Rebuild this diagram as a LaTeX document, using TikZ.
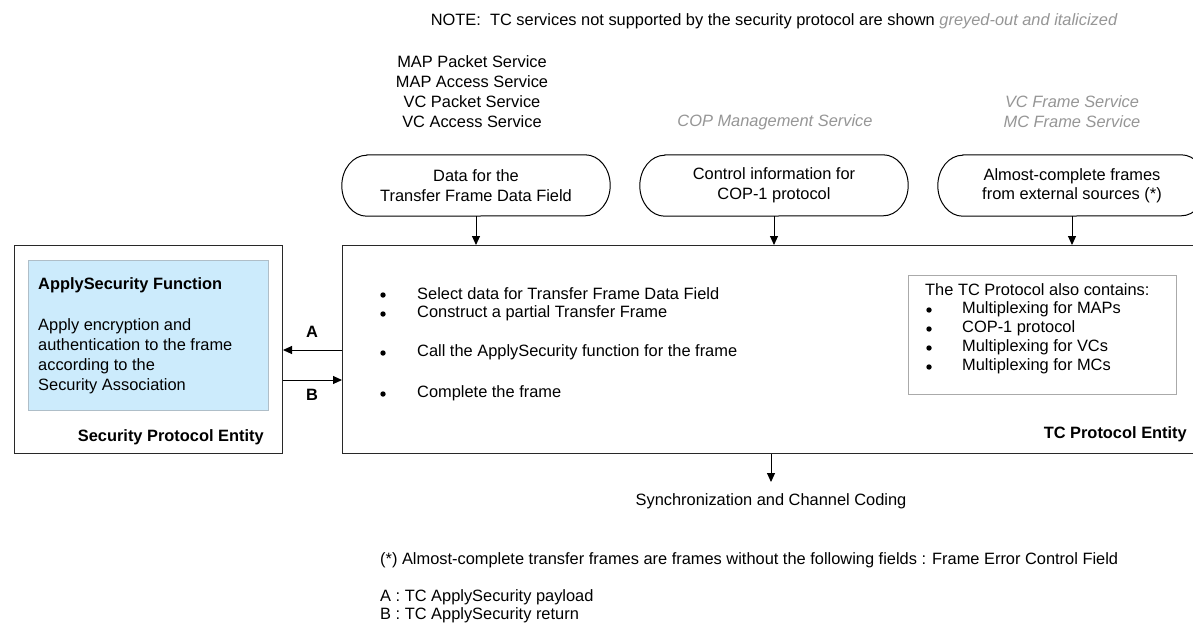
\documentclass[tikz,border=0pt]{standalone}
\usepackage{fontspec}
\setmainfont{Liberation Sans}
\usetikzlibrary{arrows.meta}
\definecolor{greytext}{RGB}{150,150,150}
\definecolor{funcblue}{RGB}{204,235,252}
\definecolor{funcborder}{RGB}{175,190,200}
\definecolor{innerborder}{RGB}{170,170,170}
\definecolor{boxline}{RGB}{40,40,40}
\tikzset{
  txt/.style={inner sep=0pt, font=\fontsize{16.4}{20}\selectfont},
  greyit/.style={txt, text=greytext, font=\fontsize{16.4}{20}\selectfont\itshape},
  bold/.style={txt, font=\fontsize{16.4}{20}\selectfont\bfseries},
  arr/.style={line width=1pt, -{Triangle[length=9pt,width=8pt]}},
  pill/.style={minimum width=268pt, minimum height=61pt, inner sep=0pt, align=center,
    font=\fontsize{16.4}{19.5}\selectfont},
  entity/.style={draw=boxline, line width=1pt, inner sep=0pt, anchor=north west},
  bul/.style={circle, fill=black, inner sep=0pt, minimum size=5.4pt},
}
\newcommand{\pilloutline}[1]{%
  \draw[line width=1pt]
    ([xshift=25pt]#1.north west) -- ([xshift=-25pt]#1.north east)
    arc[start angle=90, end angle=-90, x radius=25pt, y radius=30.5pt]
    -- ([xshift=25pt]#1.south west)
    arc[start angle=270, end angle=90, x radius=25pt, y radius=30.5pt] -- cycle;}
\begin{document}
\begin{tikzpicture}[x=1pt,y=-1pt]
\useasboundingbox (0,0) rectangle (1193,625);
\clip (0,0) rectangle (1193,625);
\fill[white] (0,0) rectangle (1193,625);

% note
\node[txt] (note) at (774,21) {NOTE:\ \ TC services not supported by the security protocol are shown {\color{greytext}\itshape greyed-out and italicized}};

% service labels
\node[txt, align=center] (svc1) at (472,92) {MAP Packet Service\\MAP Access Service\\VC Packet Service\\VC Access Service};
\node[greyit] (svc2) at (775,122) {COP Management Service};
\node[greyit, align=center] (svc3) at (1072,112) {VC Frame Service\\MC Frame Service};

% pills
\node[pill] (b1) at (476,185.5) {Data for the\\Transfer Frame Data Field};
\node[pill] (b2) at (774,185.5) {Control information for\\COP-1 protocol};
\node[pill] (b3) at (1072,185.5) {Almost-complete frames\\from external sources (*)};
\pilloutline{b1}
\pilloutline{b2}
\pilloutline{b3}

% entities
\node[entity, minimum width=268pt, minimum height=208pt] (spe) at (14,245) {};
\node[entity, minimum width=900pt, minimum height=208pt] (tc) at (342,245) {};

% function box
\node[fill=funcblue, draw=funcborder, line width=0.8pt, inner sep=0pt, anchor=north west,
  minimum width=240pt, minimum height=150pt] (func) at (28,260) {};
\node[bold, anchor=west] (functitle) at (38,285) {ApplySecurity Function};
\node[txt, anchor=west, align=left] (funcbody) at (38,356) {Apply encryption and\\authentication to the frame\\according to the\\Security Association};
\node[bold, anchor=east] (spelabel) at (264,437) {Security Protocol Entity};

% arrows into TC
\draw[arr] (b1.south) -- (b1.south |- tc.north);
\draw[arr] (b2.south) -- (b2.south |- tc.north);
\draw[arr] (b3.south) -- (b3.south |- tc.north);

% A and B
\coordinate (ya) at (0,350);
\coordinate (yb) at (0,380);
\draw[arr] (tc.west |- ya) -- (spe.east |- ya);
\draw[arr] (spe.east |- yb) -- (tc.west |- yb);
\node[bold] (la) at (312,332) {A};
\node[bold] (lb) at (312,395) {B};

% TC bullet list
\node[bul] (d1) at (383,295) {};
\node[bul] (d2) at (383,314) {};
\node[bul] (d3) at (383,353) {};
\node[bul] (d4) at (383,394) {};
\node[txt, anchor=west] (t1) at (417,294) {Select data for Transfer Frame Data Field};
\node[txt, anchor=west] (t2) at (417,313) {Construct a partial Transfer Frame};
\node[txt, anchor=west] (t3) at (417,352) {Call the ApplySecurity function for the frame};
\node[txt, anchor=west] (t4) at (417,393) {Complete the frame};

% inner box
\node[draw=innerborder, line width=0.8pt, inner sep=0pt, anchor=north west,
  minimum width=268pt, minimum height=119pt] (inner) at (908,275) {};
\node[txt, anchor=west] (it0) at (925,290) {The TC Protocol also contains:};
\node[bul] (e1) at (929,310) {};
\node[bul] (e2) at (929,329) {};
\node[bul] (e3) at (929,348) {};
\node[bul] (e4) at (929,367) {};
\node[txt, anchor=west] (it1) at (962,309) {Multiplexing for MAPs};
\node[txt, anchor=west] (it2) at (962,328) {COP-1 protocol};
\node[txt, anchor=west] (it3) at (962,347) {Multiplexing for VCs};
\node[txt, anchor=west] (it4) at (962,366) {Multiplexing for MCs};

\node[bold, anchor=east] (tclabel) at (1187,434) {TC Protocol Entity};

% output
\node[txt] (sync) at (771,501) {Synchronization and Channel Coding};
\coordinate (synctip) at (771,482);
\draw[arr] (tc.south -| synctip) -- (synctip);

% footnotes
\node[txt, anchor=west] (fn) at (380,560) {(*) Almost-complete transfer frames are frames without the following fields : Frame Error Control Field};
\node[txt, anchor=west] (fa) at (380,597) {A : TC ApplySecurity payload};
\node[txt, anchor=west] (fb) at (380,615) {B : TC ApplySecurity return};
\end{tikzpicture}
\end{document}
